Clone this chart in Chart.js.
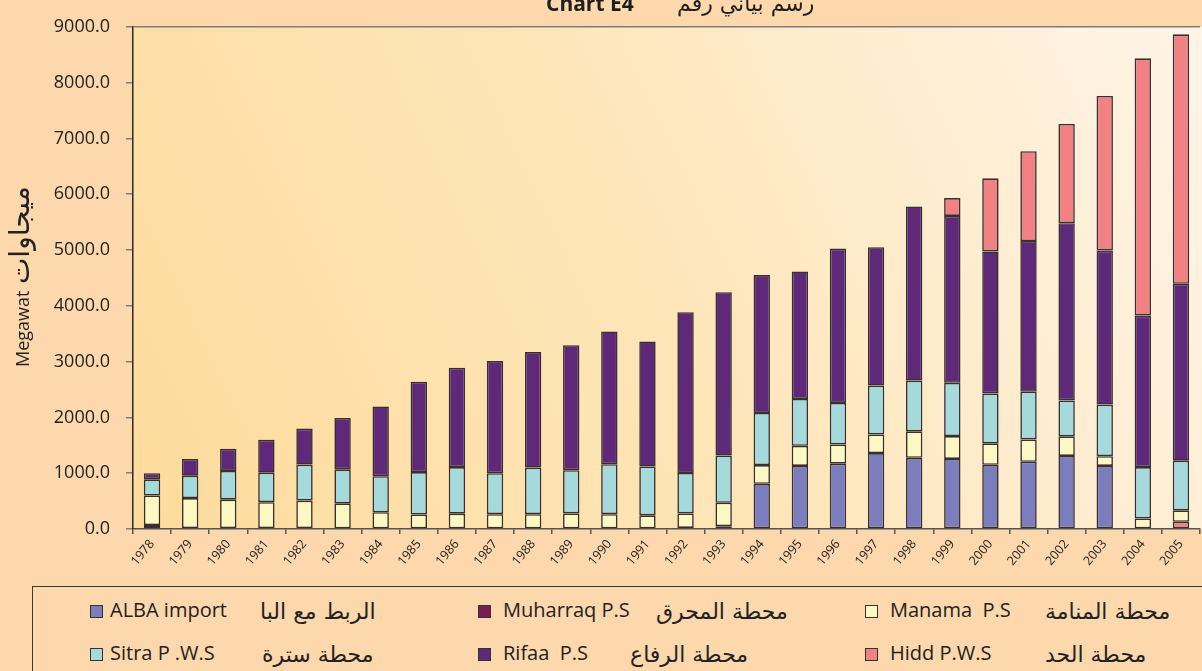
<!DOCTYPE html>
<html>
<head>
<meta charset="utf-8">
<script src="https://cdn.jsdelivr.net/npm/chart.js@4/dist/chart.umd.min.js"></script>
<style>
html,body{margin:0;padding:0;background:#FDD8AD;overflow:hidden;width:1202px;height:671px;}
#wrap{position:relative;width:1202px;height:671px;overflow:hidden;}
#c{position:absolute;left:0;top:0;}
#legend{position:absolute;left:32px;top:586px;width:1200px;height:120px;border:1.5px solid #3a3a3a;box-sizing:border-box;}
.sw{position:absolute;width:13px;height:13px;box-sizing:border-box;border:1.5px solid #333;}
.en{position:absolute;font-family:"Open Sans",sans-serif;font-size:20px;line-height:20px;color:#222;white-space:pre;}
.ar{position:absolute;font-family:"DejaVu Sans",sans-serif;font-size:22px;line-height:22px;color:#222;white-space:nowrap;direction:rtl;}
</style>
</head>
<body>
<div id="wrap">
<canvas id="c" width="1202" height="585"></canvas>
<div id="legend"></div>
<div id="items"></div>
</div>
<script>
// ---- data (MW) ----
const years = ['1978','1979','1980','1981','1982','1983','1984','1985','1986','1987','1988','1989','1990','1991','1992','1993','1994','1995','1996','1997','1998','1999','2000','2001','2002','2003','2004','2005'];
const albaImport = [null,null,null,null,null,null,null,null,null,null,null,null,null,null,null,20,810,1130,1170,1360,1275,1255,1150,1205,1310,1130,null,null];
const muharraqPS = [70,15,15,15,15,null,null,null,null,null,null,null,null,null,20,30,null,null,null,null,null,null,null,null,null,null,null,null];
const manamaPS = [530,540,510,465,495,460,300,260,275,265,265,280,265,245,260,420,335,360,345,335,475,410,385,400,350,175,190,205];
const sitraPWS = [290,400,515,530,645,610,645,760,835,735,835,775,895,875,725,845,935,840,745,875,910,955,895,855,645,925,920,890];
const rifaaPS = [110,300,400,590,645,920,1250,1620,1780,2010,2070,2240,2380,2240,2880,2930,2470,2285,2765,2480,3120,2990,2545,2700,3175,2760,2715,3170];
const hiddPWS = [null,null,null,null,null,null,null,null,null,null,null,null,null,null,null,null,null,null,null,null,null,320,1310,1610,1780,2770,4610,4470];
const hiddPWSBase = [null,null,null,null,null,null,null,null,null,null,null,null,null,null,null,null,null,null,null,null,null,null,null,null,null,null,null,130];
const yTicks = [0,1000,2000,3000,4000,5000,6000,7000,8000,9000];

const legendEn = ['ALBA import','Muharraq P.S','Manama  P.S','Sitra P .W.S','Rifaa  P.S','Hidd P.W.S'];
const legendAr = ['الربط مع البا','محطة المحرق','محطة المنامة','محطة سترة','محطة الرفاع','محطة الحد'];

// ---- styles ----
const C = {alba:'#7B7DBC', muh:'#7A1B52', man:'#FBF8C4', sit:'#A4DADC', rif:'#5E2979', hidd:'#F28183'};
const legendColors = [C.alba, C.muh, C.man, C.sit, C.rif, C.hidd];

function ds(label, data, color){
  return {label, data, backgroundColor:color, borderColor:'rgba(38,32,38,0.92)', borderWidth:1.6,
    borderSkipped:false, barPercentage:0.43, categoryPercentage:1, stack:'s'};
}

const bgPlugin = {
  id:'bg',
  beforeDraw(chart){
    const {ctx, chartArea:a} = chart;
    const g = ctx.createLinearGradient(a.left, a.bottom, a.right, a.top);
    g.addColorStop(0, '#FDDB9C');
    g.addColorStop(0.5, '#FEE6BA');
    g.addColorStop(1, '#FEF4E7');
    ctx.save();
    ctx.fillStyle = g;
    ctx.fillRect(a.left, a.top, chart.width - a.left, a.bottom - a.top);
    ctx.restore();
  }
};
const textPlugin = {
  id:'txt',
  afterDraw(chart){
    const ctx = chart.ctx;
    ctx.save();
    ctx.fillStyle = '#1e1e1e';
    ctx.textBaseline = 'alphabetic';
    ctx.textAlign = 'left';
    ctx.font = 'bold 21px "Open Sans", sans-serif';
    ctx.fillText('Chart E4', 546, 11);
    ctx.font = '22px "DejaVu Sans", sans-serif';
    ctx.fillText('رسم بياني رقم', 677, 11);
    ctx.restore();
    // y-axis title
    ctx.save();
    ctx.fillStyle = '#222';
    ctx.translate(29, 0);
    ctx.rotate(-Math.PI/2);
    ctx.textBaseline = 'alphabetic';
    ctx.textAlign = 'left';
    ctx.font = '18px "Open Sans", sans-serif';
    ctx.fillText('Megawat', -367, 0);
    ctx.font = '28px "DejaVu Sans", sans-serif';
    ctx.fillText('ميجاوات', -284, 0);
    ctx.restore();
  }
};

new Chart(document.getElementById('c'), {
  type:'bar',
  data:{
    labels: years,
    datasets:[
      ds('Hidd P.W.S', hiddPWSBase, C.hidd),
      ds('ALBA import', albaImport, C.alba),
      ds('Muharraq P.S', muharraqPS, C.muh),
      ds('Manama P.S', manamaPS, C.man),
      ds('Sitra P.W.S', sitraPWS, C.sit),
      ds('Rifaa P.S', rifaaPS, C.rif),
      ds('Hidd P.W.S', hiddPWS, C.hidd)
    ]
  },
  plugins:[bgPlugin, textPlugin],
  options:{
    responsive:false,
    animation:false,
    devicePixelRatio:1,
    layout:{padding:{top:18,left:0,right:2,bottom:0}},
    plugins:{legend:{display:false}, tooltip:{enabled:false}, title:{display:false}},
    scales:{
      x:{
        stacked:true,
        grid:{offset:true, drawOnChartArea:false, tickLength:5, tickColor:'#555', lineWidth:1.5},
        border:{color:'#555', width:1.5},
        ticks:{minRotation:50, maxRotation:50, autoSkip:false, color:'#222', padding:3,
          font:{family:'"Open Sans", sans-serif', size:12.5}},
        afterFit(s){ s.height = 56; }
      },
      y:{
        stacked:true,
        min:0, max:9000,
        afterBuildTicks(s){ s.ticks = yTicks.map(v=>({value:v})); },
        grid:{color:(c)=> (c.tick && c.tick.value===9000) ? '#7d7d7d' : 'rgba(0,0,0,0)',
              tickColor:'#7d7d7d', tickLength:7, lineWidth:1.5},
        border:{color:'#2a2a2a', width:1.5},
        ticks:{padding:16, color:'#222', font:{family:'"Open Sans", sans-serif', size:18},
          callback:(v)=> Number(v).toFixed(1)},
        title:{display:false},
        afterFit(s){ s.width = 133; }
      }
    }
  }
});

// ---- HTML legend ----
const items = document.getElementById('items');
const colX = [90, 478, 865];
const enX = [110, 503, 890];
const arX = [[260,656,1045],[262,630,1045]];
const rowSwY = [605, 648];
const rowEnTop = [600, 643];
const rowArTop = [601, 644];
for (let i=0;i<6;i++){
  const r = Math.floor(i/3), c = i%3;
  const sw = document.createElement('div');
  sw.className='sw'; sw.style.left=colX[c]+'px'; sw.style.top=rowSwY[r]+'px'; sw.style.background=legendColors[i];
  items.appendChild(sw);
  const en = document.createElement('div');
  en.className='en'; en.style.left=enX[c]+'px'; en.style.top=rowEnTop[r]+'px'; en.textContent=legendEn[i];
  items.appendChild(en);
  const ar = document.createElement('div');
  ar.className='ar'; ar.style.left=arX[r][c]+'px'; ar.style.top=rowArTop[r]+'px'; ar.textContent=legendAr[i];
  items.appendChild(ar);
}
</script>
</body>
</html>
